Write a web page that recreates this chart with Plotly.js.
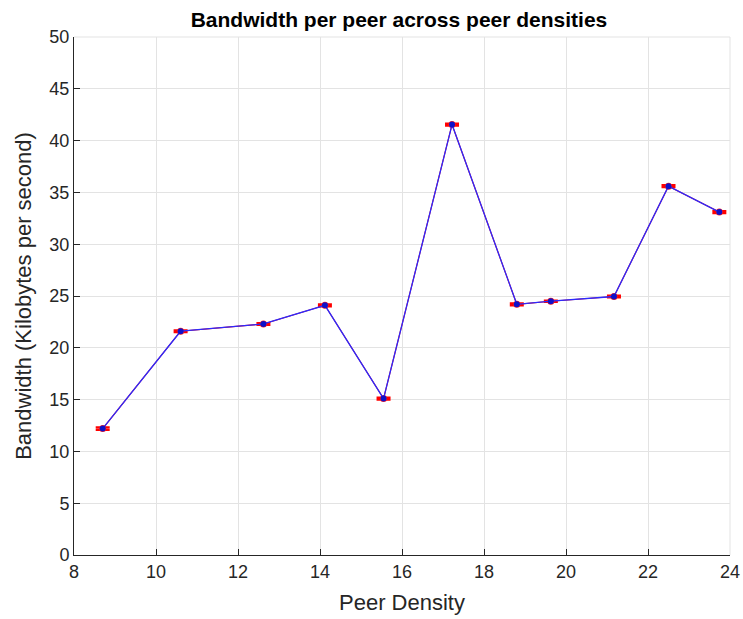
<!DOCTYPE html>
<html>
<head>
<meta charset="utf-8">
<script src="https://cdn.plot.ly/plotly-3.0.1.min.js"></script>
<style>
  html, body { margin: 0; padding: 0; background: #ffffff; }
  #chart { width: 743px; height: 619px; }
</style>
</head>
<body>
<div id="chart"></div>
<script>
// Peer density (x) and measured bandwidth per peer in KB/s (y)
const peerDensity = [8.7, 10.6, 12.62, 14.12, 15.55, 17.22, 18.8, 19.63, 21.17, 22.5, 23.74];
const bandwidth   = [12.2, 21.6, 22.3, 24.1, 15.1, 41.55, 24.2, 24.5, 24.95, 35.6, 33.1];
// Spread of each measurement (KB/s)
const bandwidthErr = [0.12, 0.08, 0.08, 0.1, 0.1, 0.1, 0.1, 0.06, 0.08, 0.1, 0.1];

const xTicks = [8, 10, 12, 14, 16, 18, 20, 22, 24];
const yTicks = [0, 5, 10, 15, 20, 25, 30, 35, 40, 45, 50];

const axisColor = '#262626';
const gridColor = '#e3e3e3';
const font = 'Liberation Sans, Arial, Helvetica, sans-serif';

const traces = [
  {
    // error bars and underlying red trace
    x: peerDensity,
    y: bandwidth,
    type: 'scatter',
    mode: 'lines+markers',
    line: { color: '#ff0000', width: 1.1 },
    marker: { color: '#ff2020', size: 7 },
    error_y: { type: 'data', array: bandwidthErr, visible: true, color: '#ff0000', thickness: 2.2, width: 7 },
    hoverinfo: 'skip',
    showlegend: false
  },
  {
    // mean bandwidth line
    x: peerDensity,
    y: bandwidth,
    type: 'scatter',
    mode: 'lines+markers',
    line: { color: '#2a2aff', width: 1.3 },
    marker: { color: '#1010c8', size: 6 },
    showlegend: false
  }
];

const layout = {
  width: 743,
  height: 619,
  paper_bgcolor: '#ffffff',
  plot_bgcolor: '#ffffff',
  margin: { l: 74, r: 13, t: 37, b: 64 },
  font: { family: font, color: axisColor },
  title: {
    text: '<b>Bandwidth per peer across peer densities</b>',
    font: { family: font, size: 21, color: '#000000' },
    x: 0.537, xanchor: 'center',
    y: 0.969, yanchor: 'middle'
  },
  xaxis: {
    range: [8, 24],
    tickmode: 'array',
    tickvals: xTicks,
    ticktext: xTicks.map(String),
    showgrid: true,
    gridcolor: gridColor,
    gridwidth: 1,
    zeroline: false,
    showline: true,
    linecolor: axisColor,
    linewidth: 1,
    ticks: 'inside',
    ticklen: 6,
    tickcolor: axisColor,
    tickfont: { family: font, size: 18, color: axisColor },
    title: { text: 'Peer Density', font: { family: font, size: 22, color: axisColor }, standoff: 14 }
  },
  yaxis: {
    range: [0, 50],
    tickmode: 'array',
    tickvals: yTicks,
    ticktext: yTicks.map(String),
    showgrid: true,
    gridcolor: gridColor,
    gridwidth: 1,
    zeroline: false,
    showline: true,
    linecolor: axisColor,
    linewidth: 1,
    ticks: 'inside',
    ticklen: 6,
    tickcolor: axisColor,
    tickfont: { family: font, size: 18, color: axisColor },
    title: { text: 'Bandwidth (Kilobytes per second)', font: { family: font, size: 22, color: axisColor }, standoff: 11 }
  },
  shapes: [
    { type: 'line', xref: 'paper', yref: 'paper', x0: 0, x1: 1, y0: 1, y1: 1, line: { color: gridColor, width: 1 } },
    { type: 'line', xref: 'paper', yref: 'paper', x0: 1, x1: 1, y0: 0, y1: 1, line: { color: gridColor, width: 1 } }
  ]
};

Plotly.newPlot('chart', traces, layout, { displayModeBar: false, staticPlot: true });
</script>
</body>
</html>
